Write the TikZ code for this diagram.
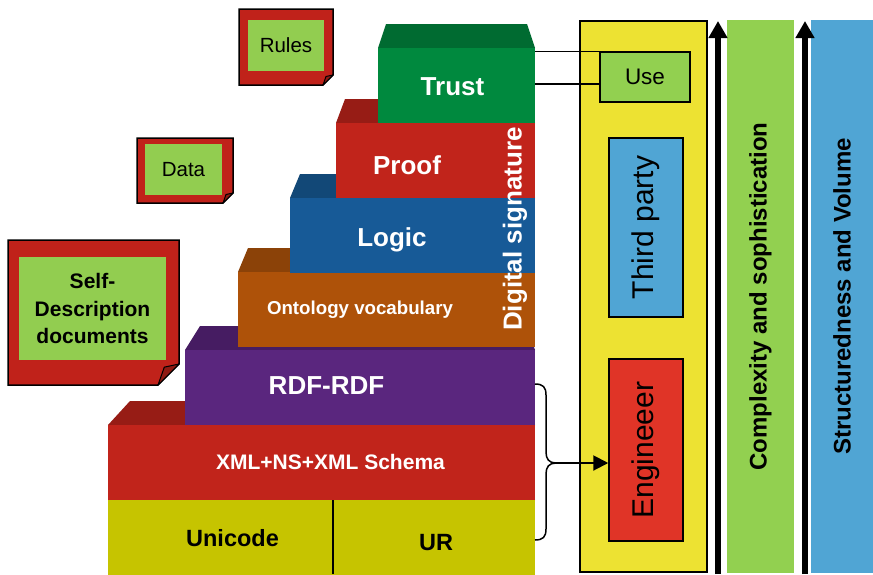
\documentclass[tikz,border=0pt]{standalone}
\usepackage{fontspec}
\setmainfont{Liberation Sans}
\usetikzlibrary{arrows.meta,calc}
\definecolor{greenfront}{HTML}{00893E}
\definecolor{greentop}{HTML}{006B31}
\definecolor{redfront}{HTML}{C1241B}
\definecolor{redtop}{HTML}{971C15}
\definecolor{bluefront}{HTML}{175A97}
\definecolor{bluetop}{HTML}{124877}
\definecolor{orangefront}{HTML}{AE5209}
\definecolor{orangetop}{HTML}{8B4208}
\definecolor{purplefront}{HTML}{5A267E}
\definecolor{purpletop}{HTML}{461C62}
\definecolor{unifront}{HTML}{C6C400}
\definecolor{notered}{HTML}{C0221A}
\definecolor{foldred}{HTML}{8F1A12}
\definecolor{notegreen}{HTML}{92CD50}
\definecolor{panelyellow}{HTML}{EDE232}
\definecolor{bargreen}{HTML}{92D050}
\definecolor{barblue}{HTML}{50A5D4}
\definecolor{engred}{HTML}{E03427}
\tikzset{
  face/.style={inner sep=0pt,outer sep=0pt,anchor=north west,minimum height=75},
  lbl/.style={anchor=base,text=white,font=\bfseries\fontsize{26}{30}\selectfont},
  notebox/.style={fill=notered,draw=black,line width=1.5pt,line join=miter},
  noteflap/.style={fill=foldred,draw=black,line width=1pt,line join=round},
  notein/.style={fill=notegreen,inner sep=0pt,font=\fontsize{20.5}{24}\selectfont},
  box/.style={draw=black,line width=1.5pt,inner sep=0pt,font=\fontsize{30}{34}\selectfont},
  bar/.style={rotate=90,minimum width=553,inner sep=0pt,font=\bfseries\fontsize{24}{28}\selectfont},
  uparrow/.style={line width=5.5pt,-{Triangle[width=18pt,length=17pt]}},
  link/.style={line width=1.5pt}
}
\begin{document}
\begin{tikzpicture}[x=1pt,y=-1pt]
  \useasboundingbox[fill=white] (0,0) rectangle (873,574);
  %layers
  \foreach \nm/\xl/\yt/\xt/\front/\top in {uni/108/500/130/unifront/unifront,xml/108/425/130/redfront/redtop,rdf/185/350/200/purplefront/purpletop,onto/238/272/248/orangefront/orangetop,logic/290/198/300/bluefront/bluetop,proof/336/123/345/redfront/redtop,trust/378/48/386/greenfront/greentop}{
    \fill[\top] (\xl,\yt) -- (\xt,\yt-24) -- (527,\yt-24) -- (535,\yt) -- cycle;
    \node[face,fill=\front,minimum width=535-\xl] (\nm) at (\xl,\yt) {};
  }
  \draw[line width=1.2pt] (333,500) -- (333,574);
  %labels
  \node[lbl] (trustlbl) at (452.5,95.3) {Trust};
  \node[lbl] (prooflbl) at (407,174.3) {Proof};
  \node[lbl] (logiclbl) at (392,246.3) {Logic};
  \node[lbl,font=\bfseries\fontsize{18.7}{22}\selectfont] (ontolbl) at (360,314.7) {Ontology vocabulary};
  \node[lbl] (rdflbl) at (326.5,394.3) {RDF-RDF};
  \node[lbl,font=\bfseries\fontsize{21}{25}\selectfont] (xmllbl) at (330.5,469.5) {XML+NS+XML Schema};
  \node[lbl,text=black,font=\bfseries\fontsize{23.5}{28}\selectfont] (unilbl) at (232.5,546) {Unicode};
  \node[lbl,text=black,font=\bfseries\fontsize{23.5}{28}\selectfont] (urlbl) at (436,550) {UR};
  \node[lbl,anchor=center,rotate=90] (siglbl) at (515,229) {Digital signature};
  %notes
  \foreach \xa/\ya/\xb/\yb/\f in {239/9/333/85/10,137/138/233/203/10,8/240/179/385/21}{
    \filldraw[notebox] (\xa,\ya) -- (\xb,\ya) -- (\xb,\yb-\f) -- (\xb-\f,\yb) -- (\xa,\yb) -- cycle;
    \filldraw[noteflap] (\xb-\f,\yb) -- (\xb-0.7*\f,\yb-0.85*\f) -- (\xb,\yb-\f) -- cycle;
  }
  \node[notein,minimum width=76,minimum height=51] (rules) at (286,45.5) {Rules};
  \node[notein,minimum width=77,minimum height=51] (data) at (183.5,169.5) {Data};
  \node[notein,minimum width=147,minimum height=103,align=center,font=\bfseries\fontsize{21}{27.5}\selectfont] (selfdesc) at (92.5,308.5) {Self-\\Description\\documents};
  %right side
  \node[draw=black,line width=2pt,fill=panelyellow,inner sep=0pt,minimum width=127,minimum height=551] (panel) at (643.5,296.5) {};
  \node[box,fill=bargreen,minimum width=90,minimum height=50,font=\fontsize{22.5}{26}\selectfont] (use) at (645,77) {Use};
  \node[box,fill=barblue,rotate=90,minimum width=179,minimum height=74] (third) at (646,227.5) {Third party};
  \node[box,fill=engred,rotate=90,minimum width=182,minimum height=74] (eng) at (646,450) {Engineeer};
  \coordinate (uselow) at ($(use.north west)!0.64!(use.south west)$);
  \draw[link] (trust.east |- use.north west) -- (use.north west);
  \draw[link] (trust.east |- uselow) -- (uselow);
  %brace
  \coordinate (bracetip) at (556,463);
  \draw[line width=1.5pt] (535,384) .. controls (543,384) and (546,387) .. (546,395) -- (546,452) .. controls (546,459) and (549,463) .. (bracetip) .. controls (549,463) and (546,467) .. (546,474) -- (546,529) .. controls (546,537) and (543,540) .. (535,540);
  \draw[line width=2pt,-{Triangle[width=15pt,length=15pt]}] (bracetip) -- (bracetip -| eng.north);
  %bars
  \node[bar,fill=bargreen,minimum height=67] (complex) at (760.5,296.5) {Complexity and sophistication};
  \node[bar,fill=barblue,minimum height=62] (struct) at (842,296.5) {Structuredness and Volume};
  \draw[uparrow] (718,574) -- (718,21);
  \draw[uparrow] (805,574) -- (805,21);
\end{tikzpicture}
\end{document}
